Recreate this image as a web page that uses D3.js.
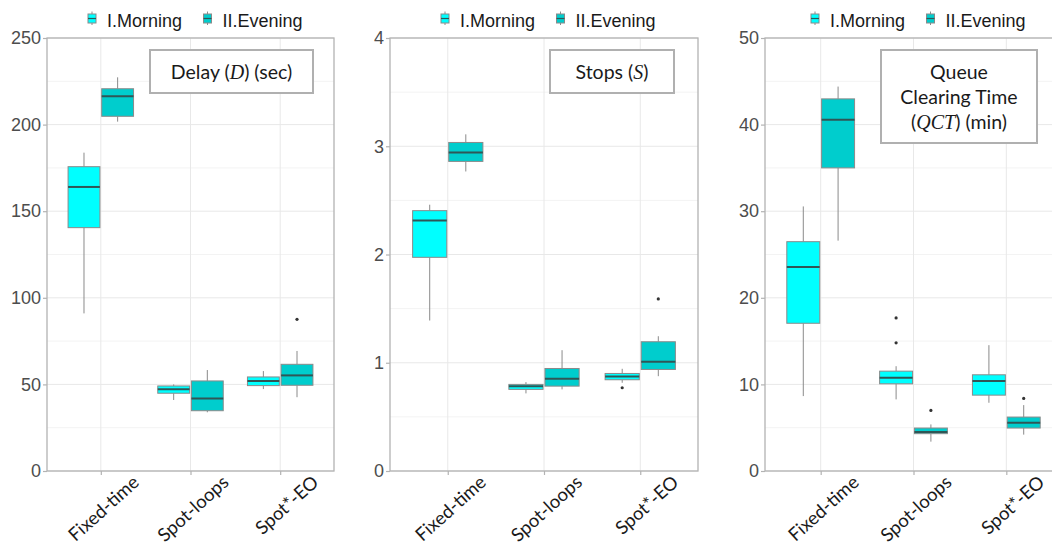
<!DOCTYPE html>
<html><head><meta charset="utf-8">
<script src="https://cdn.jsdelivr.net/npm/d3@7"></script>
<style>body{margin:0;background:#fff} svg{display:block}</style>
</head><body><svg id="chart" width="1052" height="550"></svg>
<script>
// Categories and series
const categories = ["Fixed-time", "Spot-loops", "Spot*-EO"];
const seriesNames = ["I.Morning", "II.Evening"];
const seriesColors = ["#00FFFF", "#00CDCD"];

// Box summaries per category: [lower whisker, q1, median, q3, upper whisker]
const delayMorning = [[91, 140.5, 164, 175.7, 183.8], [41, 44.9, 47.2, 49.1, 50], [47.3, 49.3, 52, 54.3, 57.7]];
const delayEvening = [[201.7, 204.8, 216.3, 220.7, 227.3], [33.9, 34.8, 41.8, 52, 58.3], [42.6, 49.5, 55.2, 61.6, 69.3]];
const stopsMorning = [[1.39, 1.974, 2.315, 2.405, 2.46], [0.717, 0.754, 0.784, 0.8, 0.821], [0.815, 0.843, 0.874, 0.901, 0.944]];
const stopsEvening = [[2.767, 2.86, 2.943, 3.035, 3.11], [0.754, 0.784, 0.852, 0.947, 1.116], [0.876, 0.938, 1.009, 1.194, 1.245]];
const qctMorning = [[8.65, 17.06, 23.56, 26.48, 30.55], [8.27, 10.07, 10.76, 11.53, 12.1], [7.88, 8.76, 10.38, 11.11, 14.53]];
const qctEvening = [[26.6, 35.0, 40.55, 42.97, 44.39], [3.39, 4.31, 4.5, 4.96, 5.38], [4.2, 4.96, 5.58, 6.23, 7.61]];

// Outliers: [category index, value]
const delayOutMorning = [];
const delayOutEvening = [[2, 87.6]];
const stopsOutMorning = [[2, 0.769]];
const stopsOutEvening = [[2, 1.59]];
const qctOutMorning = [[1, 17.68], [1, 14.8]];
const qctOutEvening = [[1, 7.0], [2, 8.38]];

// Axis ticks
const delayTicks = [0, 50, 100, 150, 200, 250];
const stopsTicks = [0, 1, 2, 3, 4];
const qctTicks = [0, 10, 20, 30, 40, 50];

const svg = d3.select("#chart");

const panels = [
  {
    left: 47, right: 334, top: 38, bottom: 471,
    ticks: delayTicks, series: [delayMorning, delayEvening], outliers: [delayOutMorning, delayOutEvening],
    legendX: 92,
    box: {x: 150, y: 50, w: 163, h: 43},
    title: [[{t: "Delay ("}, {t: "D", it: true}, {t: ") (sec)"}]]
  },
  {
    left: 390, right: 698, top: 38, bottom: 471,
    ticks: stopsTicks, series: [stopsMorning, stopsEvening], outliers: [stopsOutMorning, stopsOutEvening],
    legendX: 445,
    box: {x: 550, y: 50, w: 124, h: 43},
    title: [[{t: "Stops ("}, {t: "S", it: true}, {t: ")"}]]
  },
  {
    left: 765, right: 1062, top: 38, bottom: 471,
    ticks: qctTicks, series: [qctMorning, qctEvening], outliers: [qctOutMorning, qctOutEvening],
    legendX: 815,
    box: {x: 881, y: 50, w: 156, h: 93},
    title: [[{t: "Queue"}], [{t: "Clearing Time"}], [{t: "("}, {t: "QCT", it: true}, {t: ") (min)"}]]
  }
];

function drawPanel(p) {
  const g = svg.append("g");
  const tMax = p.ticks[p.ticks.length - 1];
  const y = d3.scaleLinear().domain([0, tMax]).range([p.bottom, p.top]);
  const x = d3.scalePoint().domain(categories).range([p.left, p.right]).padding(0.6);
  const step = x.step();

  // minor grid
  const minor = p.ticks.slice(0, -1).map((t, i) => (t + p.ticks[i + 1]) / 2);
  g.selectAll(".minor").data(minor).join("line")
    .attr("x1", p.left).attr("x2", p.right)
    .attr("y1", d => y(d)).attr("y2", d => y(d))
    .attr("stroke", "#f3f3f3").attr("stroke-width", 1);
  // major grid
  g.selectAll(".majorY").data(p.ticks).join("line")
    .attr("x1", p.left).attr("x2", p.right)
    .attr("y1", d => y(d)).attr("y2", d => y(d))
    .attr("stroke", "#e8e8e8").attr("stroke-width", 1);
  g.selectAll(".majorX").data(categories).join("line")
    .attr("x1", d => x(d)).attr("x2", d => x(d))
    .attr("y1", p.top).attr("y2", p.bottom)
    .attr("stroke", "#e8e8e8").attr("stroke-width", 1);

  // boxes
  const offs = [-0.1875, 0.1875];
  const bw = 0.355 * step;
  p.series.forEach((ser, si) => {
    ser.forEach((s, ci) => {
      const cx = x(categories[ci]) + offs[si] * step;
      const [lo, q1, med, q3, hi] = s;
      g.append("line").attr("x1", cx).attr("x2", cx).attr("y1", y(q3)).attr("y2", y(hi))
        .attr("stroke", "#8a8a8a").attr("stroke-width", 1);
      g.append("line").attr("x1", cx).attr("x2", cx).attr("y1", y(q1)).attr("y2", y(lo))
        .attr("stroke", "#8a8a8a").attr("stroke-width", 1);
      g.append("rect").attr("x", cx - bw / 2).attr("width", bw)
        .attr("y", y(q3)).attr("height", Math.max(1, y(q1) - y(q3)))
        .attr("fill", seriesColors[si]).attr("stroke", "#8a8a8a").attr("stroke-width", 1);
      g.append("line").attr("x1", cx - bw / 2).attr("x2", cx + bw / 2).attr("y1", y(med)).attr("y2", y(med))
        .attr("stroke", "#2f5656").attr("stroke-width", 2);
    });
    p.outliers[si].forEach(([ci, v]) => {
      const cx = x(categories[ci]) + offs[si] * step;
      g.append("circle").attr("cx", cx).attr("cy", y(v)).attr("r", 1.6).attr("fill", "#333");
    });
  });

  // panel border
  g.append("rect").attr("x", p.left).attr("y", p.top)
    .attr("width", p.right - p.left).attr("height", p.bottom - p.top)
    .attr("fill", "none").attr("stroke", "#b3b3b3").attr("stroke-width", 1.3);

  // y axis
  const ya = g.append("g").attr("transform", `translate(${p.left},0)`)
    .call(d3.axisLeft(y).tickValues(p.ticks).tickSize(4).tickPadding(2).tickFormat(d3.format("d")));
  ya.select(".domain").remove();
  ya.selectAll(".tick line").attr("stroke", "#b3b3b3").attr("stroke-width", 1.2);
  ya.selectAll(".tick text").attr("fill", "#4d4d4d")
    .style("font-family", "'Liberation Sans', Arial, sans-serif").style("font-size", "18px");

  // x axis
  const xa = g.append("g").attr("transform", `translate(0,${p.bottom})`)
    .call(d3.axisBottom(x).tickSize(4));
  xa.select(".domain").remove();
  xa.selectAll(".tick line").attr("stroke", "#b3b3b3").attr("stroke-width", 1.2);
  xa.selectAll(".tick text")
    .attr("y", 0).attr("dy", 0)
    .attr("text-anchor", "end")
    .attr("transform", "translate(39,13) rotate(-42)")
    .attr("fill", "#1a1a1a")
    .style("font-family", "Lato, 'Open Sans', sans-serif").style("font-size", "18.5px");

  // legend
  const lg = g.append("g");
  seriesNames.forEach((name, i) => {
    const kx = p.legendX + i * 115.5;
    lg.append("line").attr("x1", kx).attr("x2", kx).attr("y1", 11.5).attr("y2", 25)
      .attr("stroke", "#8a8a8a").attr("stroke-width", 1);
    lg.append("rect").attr("x", kx - 4).attr("y", 14).attr("width", 8).attr("height", 9)
      .attr("fill", seriesColors[i]).attr("stroke", "#8a8a8a").attr("stroke-width", 1);
    lg.append("line").attr("x1", kx - 4).attr("x2", kx + 4).attr("y1", 18.5).attr("y2", 18.5)
      .attr("stroke", "#2f5656").attr("stroke-width", 1.2);
    lg.append("text").attr("x", kx + 15).attr("y", 26.5).text(name)
      .attr("fill", "#1a1a1a")
      .style("font-family", "'Liberation Sans', Arial, sans-serif").style("font-size", "18px");
  });

  // title box
  g.append("rect").attr("x", p.box.x).attr("y", p.box.y).attr("width", p.box.w).attr("height", p.box.h)
    .attr("fill", "#fff").attr("stroke", "#b0b0b0").attr("stroke-width", 2);
  const cxT = p.box.x + p.box.w / 2;
  const n = p.title.length;
  p.title.forEach((line, li) => {
    const base = p.box.y + p.box.h / 2 + 7 + (li - (n - 1) / 2) * 25;
    const t = g.append("text").attr("x", cxT).attr("y", base).attr("text-anchor", "middle")
      .attr("fill", "#1a1a1a")
      .style("font-family", "Lato, 'Open Sans', sans-serif").style("font-size", "19.5px");
    line.forEach(seg => {
      const ts = t.append("tspan").text(seg.t);
      if (seg.it) ts.style("font-style", "italic").style("font-family", "'Liberation Serif', serif").style("font-size", "20px");
    });
  });
}

panels.forEach(drawPanel);
</script>
</body></html>
